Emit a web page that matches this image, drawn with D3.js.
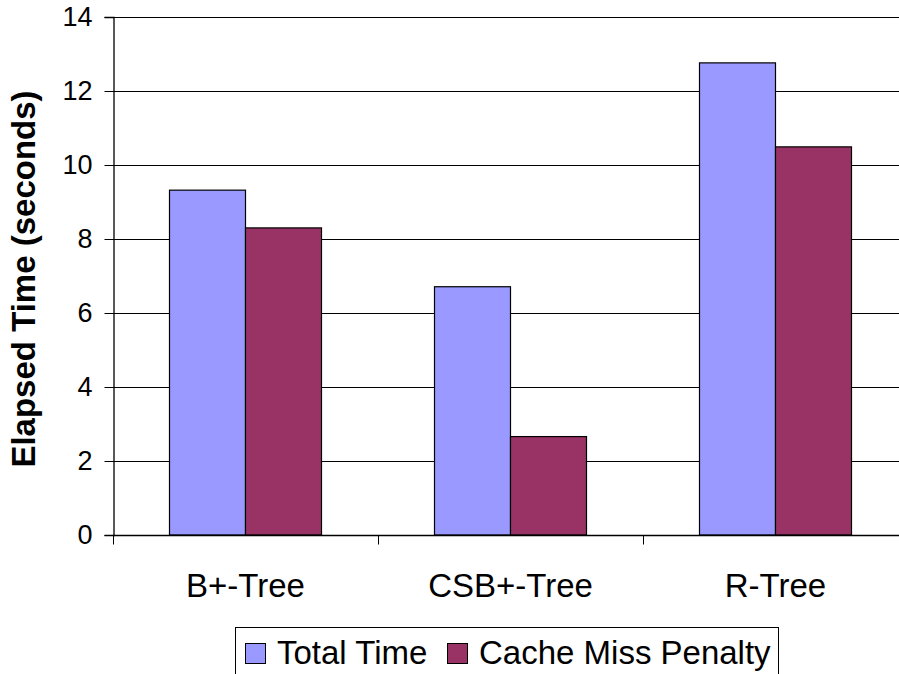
<!DOCTYPE html>
<html>
<head>
<meta charset="utf-8">
<script src="https://cdn.jsdelivr.net/npm/d3@7"></script>
<style>
  html, body { margin: 0; padding: 0; background: #fff; }
  svg { display: block; font-family: Arial, "Liberation Sans", sans-serif; }
</style>
</head>
<body>
<svg id="chart" width="899" height="674"></svg>
<script>
// Elapsed time per index structure
const categories = ["B+-Tree", "CSB+-Tree", "R-Tree"];
const seriesNames = ["Total Time", "Cache Miss Penalty"];
const totalTime = [9.32, 6.71, 12.76];
const cacheMissPenalty = [8.30, 2.66, 10.49];
const yTicks = [0, 2, 4, 6, 8, 10, 12, 14];
const seriesColors = ["#9999FF", "#993366"];

const seriesValues = [totalTime, cacheMissPenalty];
const svg = d3.select("#chart");

const plot = { left: 113, right: 908, top: 17, bottom: 535 };

const y = d3.scaleLinear().domain([0, 14]).range([plot.bottom, plot.top]);
const x0 = d3.scaleBand().domain(categories).range([plot.left, plot.right]).padding(0);
const groupPad = 56.5;
const x1 = d3.scaleBand().domain(seriesNames)
  .range([groupPad, x0.bandwidth() - groupPad]).padding(0);

// horizontal gridlines
svg.append("g")
  .selectAll("line")
  .data(yTicks.filter(d => d > 0))
  .join("line")
  .attr("x1", plot.left).attr("x2", plot.right)
  .attr("y1", d => Math.round(y(d)) + 0.5).attr("y2", d => Math.round(y(d)) + 0.5)
  .attr("stroke", "#000").attr("stroke-width", 1);

// bars
const groups = svg.append("g")
  .selectAll("g")
  .data(categories)
  .join("g")
  .attr("transform", d => `translate(${x0(d)},0)`);

groups.selectAll("rect")
  .data((c, i) => seriesNames.map((s, j) => ({ s, v: seriesValues[j][i], j })))
  .join("rect")
  .attr("x", d => x1(d.s))
  .attr("y", d => y(d.v))
  .attr("width", x1.bandwidth())
  .attr("height", d => y(0) - y(d.v))
  .attr("fill", d => seriesColors[d.j])
  .attr("stroke", "#000")
  .attr("stroke-width", 1.2);

// y axis
const yAxis = d3.axisLeft(y).tickValues(yTicks).tickSize(9).tickPadding(12)
  .tickFormat(d3.format("d"));
const gy = svg.append("g")
  .attr("transform", `translate(${plot.left + 0.5},0)`)
  .call(yAxis);
gy.select(".domain").attr("stroke", "#000").attr("stroke-width", 1.3);
gy.selectAll(".tick line").attr("stroke", "#000");
gy.selectAll(".tick text")
  .attr("font-size", 27).attr("fill", "#000")
  .attr("font-family", "Arial, 'Liberation Sans', sans-serif");

// x axis
const gx = svg.append("g")
  .attr("transform", `translate(0,${plot.bottom + 0.5})`);
gx.append("line")
  .attr("x1", plot.left).attr("x2", plot.right)
  .attr("stroke", "#000").attr("stroke-width", 1.3);
gx.selectAll("line.tick")
  .data(categories.map(c => x0(c)).concat([plot.right]))
  .join("line").attr("class", "tick")
  .attr("x1", d => d + 0.5).attr("x2", d => d + 0.5)
  .attr("y1", 0).attr("y2", 9)
  .attr("stroke", "#000");
gx.selectAll("text")
  .data(categories)
  .join("text")
  .attr("x", d => x0(d) + x0.bandwidth() / 2)
  .attr("y", 61)
  .attr("text-anchor", "middle")
  .attr("font-size", 33)
  .attr("fill", "#000")
  .text(d => d);

// y axis title
svg.append("text")
  .attr("transform", "translate(35,279) rotate(-90)")
  .attr("text-anchor", "middle")
  .attr("font-size", 33)
  .attr("font-weight", "bold")
  .attr("fill", "#000")
  .text("Elapsed Time (seconds)");

// legend
const legend = svg.append("g");
legend.append("rect")
  .attr("x", 235.5).attr("y", 627.5)
  .attr("width", 543).attr("height", 80)
  .attr("fill", "#fff").attr("stroke", "#000").attr("stroke-width", 1);
const legendX = [245, 447];
const items = legend.selectAll("g.item")
  .data(seriesNames)
  .join("g").attr("class", "item")
  .attr("transform", (d, i) => `translate(${legendX[i]},643)`);
items.append("rect")
  .attr("x", 0.5).attr("y", 0.5)
  .attr("width", 20).attr("height", 20)
  .attr("fill", (d, i) => seriesColors[i])
  .attr("stroke", "#000").attr("stroke-width", 1);
items.append("text")
  .attr("x", 32).attr("y", 21)
  .attr("font-size", 33)
  .attr("fill", "#000")
  .text(d => d);
</script>
</body>
</html>
